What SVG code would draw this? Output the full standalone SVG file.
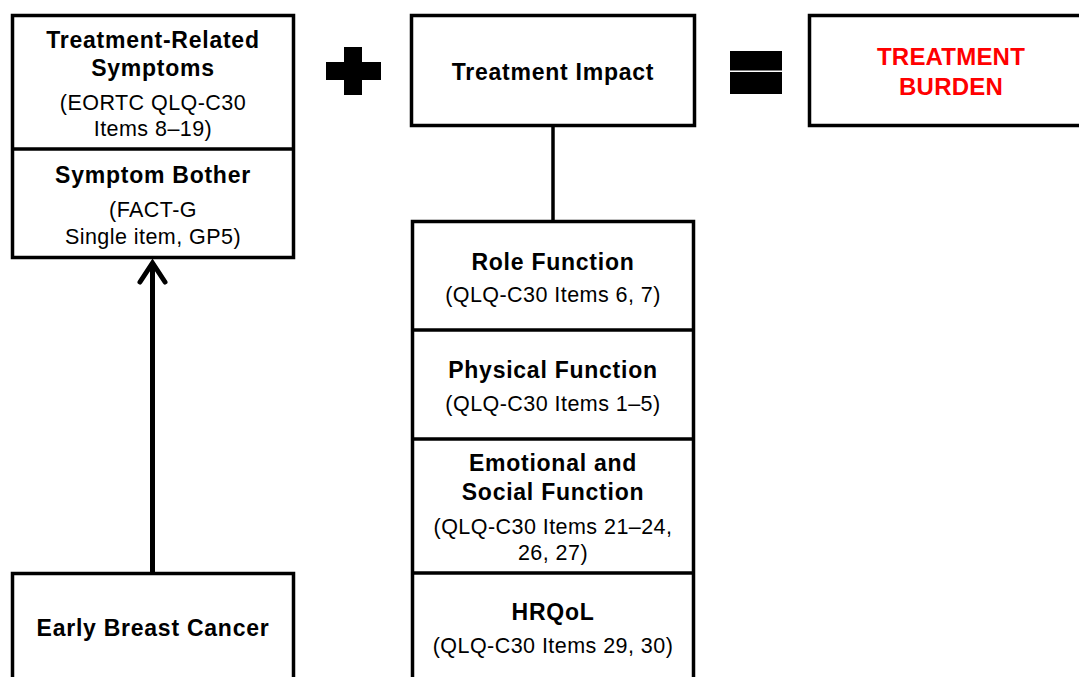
<svg xmlns="http://www.w3.org/2000/svg" width="1079" height="677" viewBox="0 0 1079 677">
<style>
.box{fill:#fff;stroke:#000;stroke-width:3.5}
.div{stroke:#000;stroke-width:3.5}
text{font-family:"Liberation Sans",Arial,sans-serif;text-anchor:middle;fill:#000}
.b{font-weight:bold;font-size:23px;letter-spacing:0.75px}
.r{font-size:21.5px;letter-spacing:0.45px}
.red{font-weight:bold;font-size:24px;fill:#ff0000;letter-spacing:0.2px}
.conn{stroke:#000;fill:none}
</style>
<rect width="1079" height="677" fill="#fff"/>
<g id="symptoms">
<rect class="box" x="12.5" y="15.5" width="281" height="242"/>
<line class="div" x1="12.5" y1="149" x2="293.5" y2="149"/>
<text class="b" x="153" y="48">Treatment-Related</text>
<text class="b" x="153" y="76">Symptoms</text>
<text class="r" x="153" y="110">(EORTC QLQ-C30</text>
<text class="r" x="153" y="136">Items 8–19)</text>
<text class="b" x="153" y="183">Symptom Bother</text>
<text class="r" x="153" y="217">(FACT-G</text>
<text class="r" x="153" y="244">Single item, GP5)</text>
</g>
<g id="plus">
<rect x="344" y="47" width="18" height="48" fill="#000"/>
<rect x="326" y="62" width="55" height="18" fill="#000"/>
</g>
<g id="impact">
<rect class="box" x="411.5" y="15.5" width="283" height="110"/>
<text class="b" x="553" y="80">Treatment Impact</text>
</g>
<g id="equals">
<rect x="730" y="51" width="52" height="19.5" fill="#000"/>
<rect x="730" y="72" width="52" height="22" fill="#000"/>
</g>
<g id="burden">
<rect class="box" x="809.5" y="15.5" width="290" height="110"/>
<text class="red" x="951" y="65">TREATMENT</text>
<text class="red" x="951" y="95">BURDEN</text>
</g>
<g id="cancer">
<rect class="box" x="12.5" y="573.5" width="281" height="120"/>
<text class="b" x="153" y="636">Early Breast Cancer</text>
</g>
<g id="domains">
<rect class="box" x="412.5" y="221.5" width="281" height="480"/>
<line class="div" x1="412.5" y1="330" x2="693.5" y2="330"/>
<line class="div" x1="412.5" y1="439" x2="693.5" y2="439"/>
<line class="div" x1="412.5" y1="573" x2="693.5" y2="573"/>
<text class="b" x="553" y="270">Role Function</text>
<text class="r" x="553" y="302">(QLQ-C30 Items 6, 7)</text>
<text class="b" x="553" y="378">Physical Function</text>
<text class="r" x="553" y="411">(QLQ-C30 Items 1–5)</text>
<text class="b" x="553" y="471">Emotional and</text>
<text class="b" x="553" y="500">Social Function</text>
<text class="r" x="553" y="534">(QLQ-C30 Items 21–24,</text>
<text class="r" x="553" y="560">26, 27)</text>
<text class="b" x="553" y="620">HRQoL</text>
<text class="r" x="553" y="653">(QLQ-C30 Items 29, 30)</text>
</g>
<g id="connectors">
<line class="conn" x1="553" y1="127" x2="553" y2="220" stroke-width="3.5"/>
<line class="conn" x1="152.5" y1="264" x2="152.5" y2="572" stroke-width="5"/>
<polyline class="conn" points="140,282 152.5,263 165,282" stroke-width="5" stroke-linecap="round" stroke-linejoin="miter"/>
</g>
</svg>
